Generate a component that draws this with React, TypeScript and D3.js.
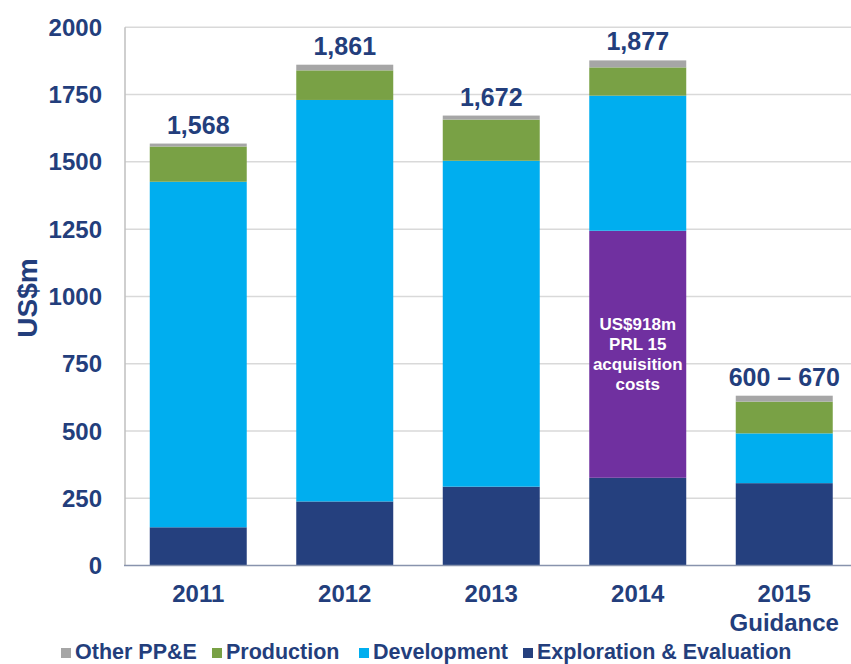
import React from 'react'
import * as d3 from 'd3'

const years = ['2011', '2012', '2013', '2014', '2015']
const yearSub = ['', '', '', '', 'Guidance']
const exploration = [142, 238, 293, 326, 306]
const acquisition = [0, 0, 0, 918, 0]
const development = [1284, 1492, 1211, 502, 185]
const production = [131, 110, 153, 105, 118]
const otherPPE = [11, 21, 15, 26, 22]
const totalLabels = ['1,568', '1,861', '1,672', '1,877', '600 – 670']
const yTicks = [0, 250, 500, 750, 1000, 1250, 1500, 1750, 2000]
const acqNote = ['US$918m', 'PRL 15', 'acquisition', 'costs']

const seriesKeys = ['ee', 'acq', 'dev', 'prod', 'other']
const colors: Record<string, string> = {
  ee: '#25407e',
  acq: '#7030a0',
  dev: '#00aeef',
  prod: '#79a145',
  other: '#a6a6a6',
}
const legendItems = [
  { key: 'other', label: 'Other PP&E' },
  { key: 'prod', label: 'Production' },
  { key: 'dev', label: 'Development' },
  { key: 'ee', label: 'Exploration & Evaluation' },
]

const W = 851
const H = 664
const textColor = '#233e7c'
const font = '"Liberation Sans", Arial, sans-serif'

export default function App() {
  const rows = years.map((y, i) => ({
    year: y,
    ee: exploration[i],
    acq: acquisition[i],
    dev: development[i],
    prod: production[i],
    other: otherPPE[i],
  }))

  const x = d3.scaleBand<string>()
    .domain(years)
    .range([125, 857.5])
    .paddingInner(0.338)
    .paddingOuter(0.169)

  const y = d3.scaleLinear().domain([0, 2000]).range([565.5, 27.3])

  const stacked = d3.stack<any>().keys(seriesKeys)(rows)

  const legendX = [61, 212, 359, 523]

  return (
    <svg width={W} height={H} style={{ position: 'absolute', left: 0, top: 0, fontFamily: font }}>
      <rect width={W} height={H} fill="#fff" />
      {/* gridlines */}
      {yTicks.filter(t => t > 0).map(t => (
        <line key={t} x1={125} x2={W} y1={y(t)} y2={y(t)} stroke="#d9d9d9" strokeWidth={1.5} />
      ))}
      {/* bars */}
      {stacked.map(s => (
        <g key={s.key} fill={colors[s.key]}>
          {s.map((d, i) => d[1] - d[0] > 0 ? (
            <rect key={i} x={x(years[i])} width={x.bandwidth()} y={y(d[1])} height={y(d[0]) - y(d[1])} />
          ) : null)}
        </g>
      ))}
      {/* axes */}
      <line x1={125} x2={125} y1={y(2000)} y2={y(0)} stroke="#bfbfbf" strokeWidth={1.5} />
      <line x1={124} x2={W} y1={y(0)} y2={y(0)} stroke="#8893ad" strokeWidth={1.5} />
      {yTicks.map(t => (
        <text key={t} x={102} y={y(t)} dy="0.36em" textAnchor="end" fontSize={24} fontWeight="bold" fill={textColor}>{t}</text>
      ))}
      <text transform="translate(37,298) rotate(-90)" textAnchor="middle" fontSize={28} fontWeight="bold" fill={textColor}>US$m</text>
      {years.map((yr, i) => (
        <text key={yr} x={x(yr)! + x.bandwidth() / 2} y={602} textAnchor="middle" fontSize={24} fontWeight="bold" fill={textColor}>
          {yr}
          {yearSub[i] && <tspan x={x(yr)! + x.bandwidth() / 2} dy={29}>{yearSub[i]}</tspan>}
        </text>
      ))}
      {/* totals */}
      {rows.map((r, i) => {
        const top = stacked[stacked.length - 1][i][1]
        return (
          <text key={i} x={x(r.year)! + x.bandwidth() / 2} y={y(top) - 10} textAnchor="middle" fontSize={25} fontWeight="bold" fill={textColor}>{totalLabels[i]}</text>
        )
      })}
      {/* acquisition note */}
      {stacked[1].map((d, i) => {
        if (d[1] - d[0] <= 0) return null
        const cy = (y(d[0]) + y(d[1])) / 2
        const cx = x(years[i])! + x.bandwidth() / 2
        return (
          <text key={i} x={cx} y={cy - 30 + 6} textAnchor="middle" fontSize={17} fontWeight="bold" fill="#fff">
            {acqNote.map((l, j) => <tspan key={j} x={cx} dy={j === 0 ? 0 : 20}>{l}</tspan>)}
          </text>
        )
      })}
      {/* legend */}
      {legendItems.map((it, i) => (
        <g key={it.key} transform={`translate(${legendX[i]},0)`}>
          <rect x={0} y={648} width={10} height={10} fill={colors[it.key]} />
          <text x={14} y={659} fontSize={21.5} fontWeight="bold" fill={textColor}>{it.label}</text>
        </g>
      ))}
    </svg>
  )
}
